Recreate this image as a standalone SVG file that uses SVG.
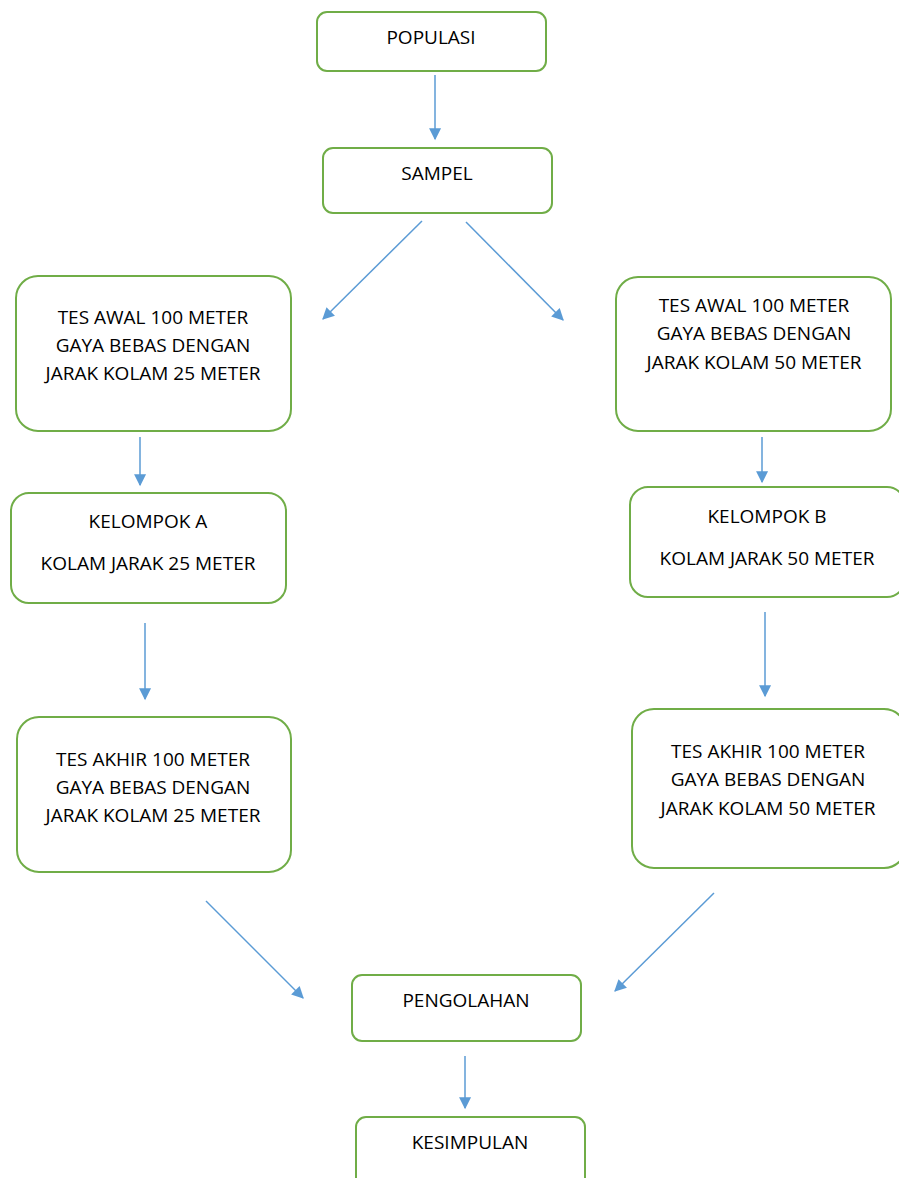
<svg xmlns="http://www.w3.org/2000/svg" width="899" height="1178" viewBox="0 0 899 1178">
<style>
.box{fill:#fff;stroke:#70AD47;stroke-width:2}
.t{font-family:"Open Sans","Liberation Sans",sans-serif;font-size:19px;fill:#000;text-anchor:middle}
.c{stroke:#5B9BD5;stroke-width:1.5;fill:none;marker-end:url(#ah)}
</style>
<defs>
<marker id="ah" viewBox="0 0 10 10" refX="9" refY="5" markerWidth="8" markerHeight="8" markerUnits="userSpaceOnUse" orient="auto" overflow="visible">
<path d="M0,0 L10,5 L0,10 Z" fill="#5B9BD5" transform="scale(1.5) translate(-3,-1.7)"/>
</marker>
</defs>
<rect width="899" height="1178" fill="#fff"/>
<g id="connectors">
<line class="c" x1="435" y1="75" x2="435" y2="139"/>
<line class="c" x1="422" y1="221" x2="323" y2="319"/>
<line class="c" x1="466" y1="222" x2="563" y2="320"/>
<line class="c" x1="140" y1="437" x2="140" y2="485"/>
<line class="c" x1="762" y1="437" x2="762" y2="482"/>
<line class="c" x1="145" y1="623" x2="145" y2="699"/>
<line class="c" x1="765" y1="612" x2="765" y2="696"/>
<line class="c" x1="206" y1="901" x2="303" y2="998"/>
<line class="c" x1="714" y1="893" x2="615" y2="991"/>
<line class="c" x1="465" y1="1056" x2="465" y2="1108"/>
</g>
<g id="populasi"><rect class="box" x="317" y="12" width="229" height="59" rx="10"/><text class="t" x="431" y="44">POPULASI</text></g>
<g id="sampel"><rect class="box" x="323" y="148" width="229" height="65" rx="10"/><text class="t" x="437" y="180">SAMPEL</text></g>
<g id="tes-awal-25"><rect class="box" x="16" y="276" width="275" height="155" rx="22"/><text class="t" x="153" y="324">TES AWAL 100 METER</text><text class="t" x="153" y="352">GAYA BEBAS DENGAN</text><text class="t" x="153" y="380">JARAK KOLAM 25 METER</text></g>
<g id="tes-awal-50"><rect class="box" x="616" y="277" width="275" height="154" rx="22"/><text class="t" x="754" y="312">TES AWAL 100 METER</text><text class="t" x="754" y="340">GAYA BEBAS DENGAN</text><text class="t" x="754" y="369">JARAK KOLAM 50 METER</text></g>
<g id="kelompok-a"><rect class="box" x="11" y="493" width="275" height="110" rx="18"/><text class="t" x="148" y="528">KELOMPOK A</text><text class="t" x="148" y="570">KOLAM JARAK 25 METER</text></g>
<g id="kelompok-b"><rect class="box" x="630" y="487" width="275" height="110" rx="18"/><text class="t" x="767" y="523">KELOMPOK B</text><text class="t" x="767" y="565">KOLAM JARAK 50 METER</text></g>
<g id="tes-akhir-25"><rect class="box" x="17" y="717" width="274" height="155" rx="22"/><text class="t" x="153" y="766">TES AKHIR 100 METER</text><text class="t" x="153" y="794">GAYA BEBAS DENGAN</text><text class="t" x="153" y="822">JARAK KOLAM 25 METER</text></g>
<g id="tes-akhir-50"><rect class="box" x="632" y="709" width="274" height="159" rx="22"/><text class="t" x="768" y="758">TES AKHIR 100 METER</text><text class="t" x="768" y="786">GAYA BEBAS DENGAN</text><text class="t" x="768" y="815">JARAK KOLAM 50 METER</text></g>
<g id="pengolahan"><rect class="box" x="352" y="975" width="229" height="66" rx="10"/><text class="t" x="466" y="1007">PENGOLAHAN</text></g>
<g id="kesimpulan"><rect class="box" x="356" y="1117" width="229" height="70" rx="10"/><text class="t" x="470" y="1149">KESIMPULAN</text></g>
</svg>
